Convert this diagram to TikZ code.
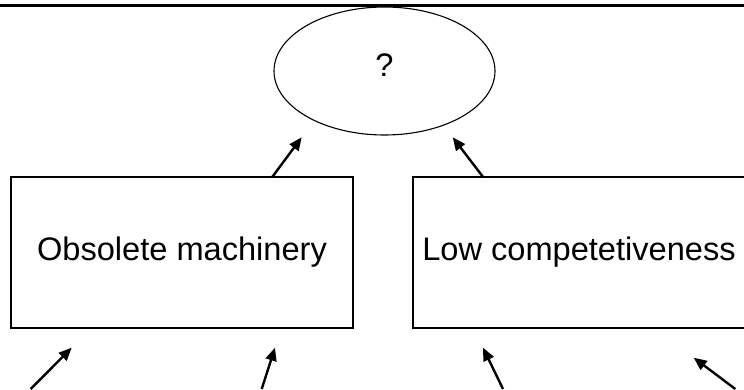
\documentclass[tikz,border=0pt]{standalone}
\usepackage{fontspec}
\setmainfont{Liberation Sans}
\usetikzlibrary{arrows.meta,shapes.geometric}
\begin{document}
\begin{tikzpicture}[x=1pt,y=-1pt,
  labelfont/.style={font=\fontsize{32.6}{39}\selectfont},
  causebox/.style={draw, line width=1.5pt, inner sep=0pt, minimum height=151pt, labelfont},
  bubble/.style={draw, ellipse, line width=1.1pt, inner sep=0pt, minimum width=221pt, minimum height=128pt, labelfont},
  link/.style={line width=2.4pt, -{Triangle[length=13pt,width=11pt]}}]
\useasboundingbox (0,0) rectangle (744,389);
\clip (0,0) rectangle (744,389);

% rule along the top edge
\coordinate (ruleL) at (0,5.5);
\coordinate (ruleR) at (744,5.5);
\draw[line width=2.6pt] (ruleL) -- (ruleR);

% the unknown effect and its two causes
\node[bubble] (effect) at (384.5,71) {\raisebox{12pt}{?}};
\node[causebox, minimum width=342pt] (machinery) at (182,252.5) {Obsolete machinery};
\node[causebox, minimum width=332pt] (competition) at (579,252.5) {Low competetiveness};

% arrows from the causes up to the effect
\coordinate (m1) at (272,177.3);
\coordinate (e1) at (301.7,137.3);
\coordinate (c1) at (483.3,177.3);
\coordinate (e2) at (452.7,137.3);
\draw[link] (m1) -- (e1);
\draw[link] (c1) -- (e2);

% arrows entering from below
\coordinate (s1) at (30.7,389);   \coordinate (t1) at (71.7,347.7);
\coordinate (s2) at (261.7,389);  \coordinate (t2) at (275,347.7);
\coordinate (s3) at (503,389);    \coordinate (t3) at (483,347.7);
\coordinate (s4) at (735.3,389);  \coordinate (t4) at (693.7,357.7);
\draw[link] (s1) -- (t1);
\draw[link] (s2) -- (t2);
\draw[link] (s3) -- (t3);
\draw[link] (s4) -- (t4);
\end{tikzpicture}
\end{document}
